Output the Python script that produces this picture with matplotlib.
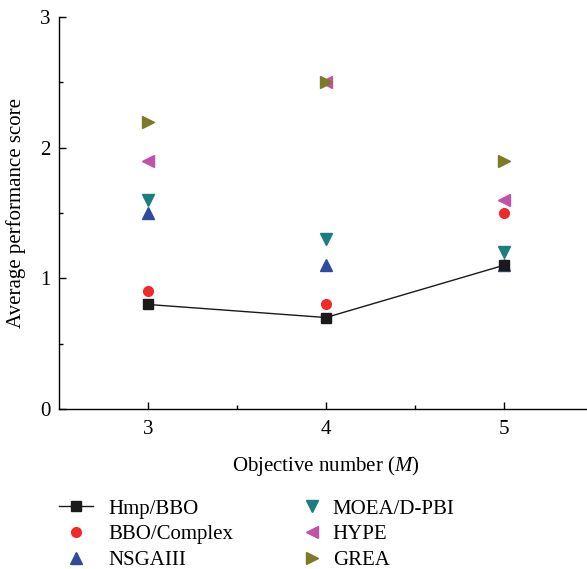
import numpy as np
import matplotlib.pyplot as plt

plt.rcParams['font.family'] = ['Liberation Serif', 'DejaVu Serif']
plt.rcParams['mathtext.fontset'] = 'custom'
plt.rcParams['mathtext.it'] = 'Liberation Serif:italic'
plt.rcParams['mathtext.rm'] = 'Liberation Serif'

# Daten
objectives = [3, 4, 5]
hmp_bbo = [0.8, 0.7, 1.1]
bbo_complex = [0.9, 0.8, 1.5]
nsgaiii = [1.5, 1.1, 1.1]
moead_pbi = [1.6, 1.3, 1.2]
hype = [1.9, 2.5, 1.6]
grea = [2.2, 2.5, 1.9]

fs = 15

fig = plt.figure(figsize=(5.87, 5.69), dpi=100)
ax = fig.add_axes([59 / 587, 1 - 409 / 569, 1 - 59 / 587 + 0.01, (409 - 17) / 569])

ax.plot(objectives, hmp_bbo, color='#1a1a1a', lw=1.0, marker='s', ms=6.5, label='Hmp/BBO', zorder=5)
ax.plot(objectives, bbo_complex, ls='none', color='#ee2a2a', marker='o', ms=7, label='BBO/Complex')
ax.plot(objectives, nsgaiii, ls='none', color='#2f4b9e', marker='^', ms=8, label='NSGAIII')
ax.plot(objectives, moead_pbi, ls='none', color='#1b7d7d', marker='v', ms=8, label='MOEA/D-PBI')
ax.plot(objectives, hype, ls='none', color='#c052aa', marker='<', ms=8, label='HYPE')
ax.plot(objectives, grea, ls='none', color='#7b7b27', marker='>', ms=8, label='GREA')

ax.set_xlim(2.5, 5.5)
ax.set_ylim(0, 3)
ax.set_xticks([3, 4, 5])
ax.set_xticks([3.5, 4.5], minor=True)
ax.set_yticks([0, 1, 2, 3])
ax.set_yticks([0.5, 1.5, 2.5], minor=True)
ax.tick_params(direction='in', length=5, width=1, labelsize=fs)
ax.tick_params(which='minor', direction='in', length=3, width=1)
ax.tick_params(axis='x', pad=8)
ax.tick_params(axis='y', pad=6)
ax.spines['top'].set_visible(False)
ax.spines['right'].set_visible(False)
for s in ['left', 'bottom']:
    ax.spines[s].set_linewidth(1.0)

ax.set_xlabel(r'Objective number ($M$)', fontsize=fs, labelpad=11)
ax.set_ylabel('Average performance score', fontsize=fs, labelpad=10)

handles, labels = ax.get_legend_handles_labels()
# linke Spalte
fig.legend(handles[:3], labels[:3], loc='upper left', bbox_to_anchor=(59 / 587, 1 - 499 / 569),
           frameon=False, fontsize=fs, handlelength=1.63, handletextpad=0.72,
           labelspacing=0.3, borderpad=0, borderaxespad=0)
# rechte Spalte
fig.legend(handles[3:], labels[3:], loc='upper left', bbox_to_anchor=(302 / 587, 1 - 499 / 569),
           frameon=False, fontsize=fs, handlelength=1.0, handletextpad=0.48,
           labelspacing=0.3, borderpad=0, borderaxespad=0)

fig.savefig('out.png', dpi=100)
